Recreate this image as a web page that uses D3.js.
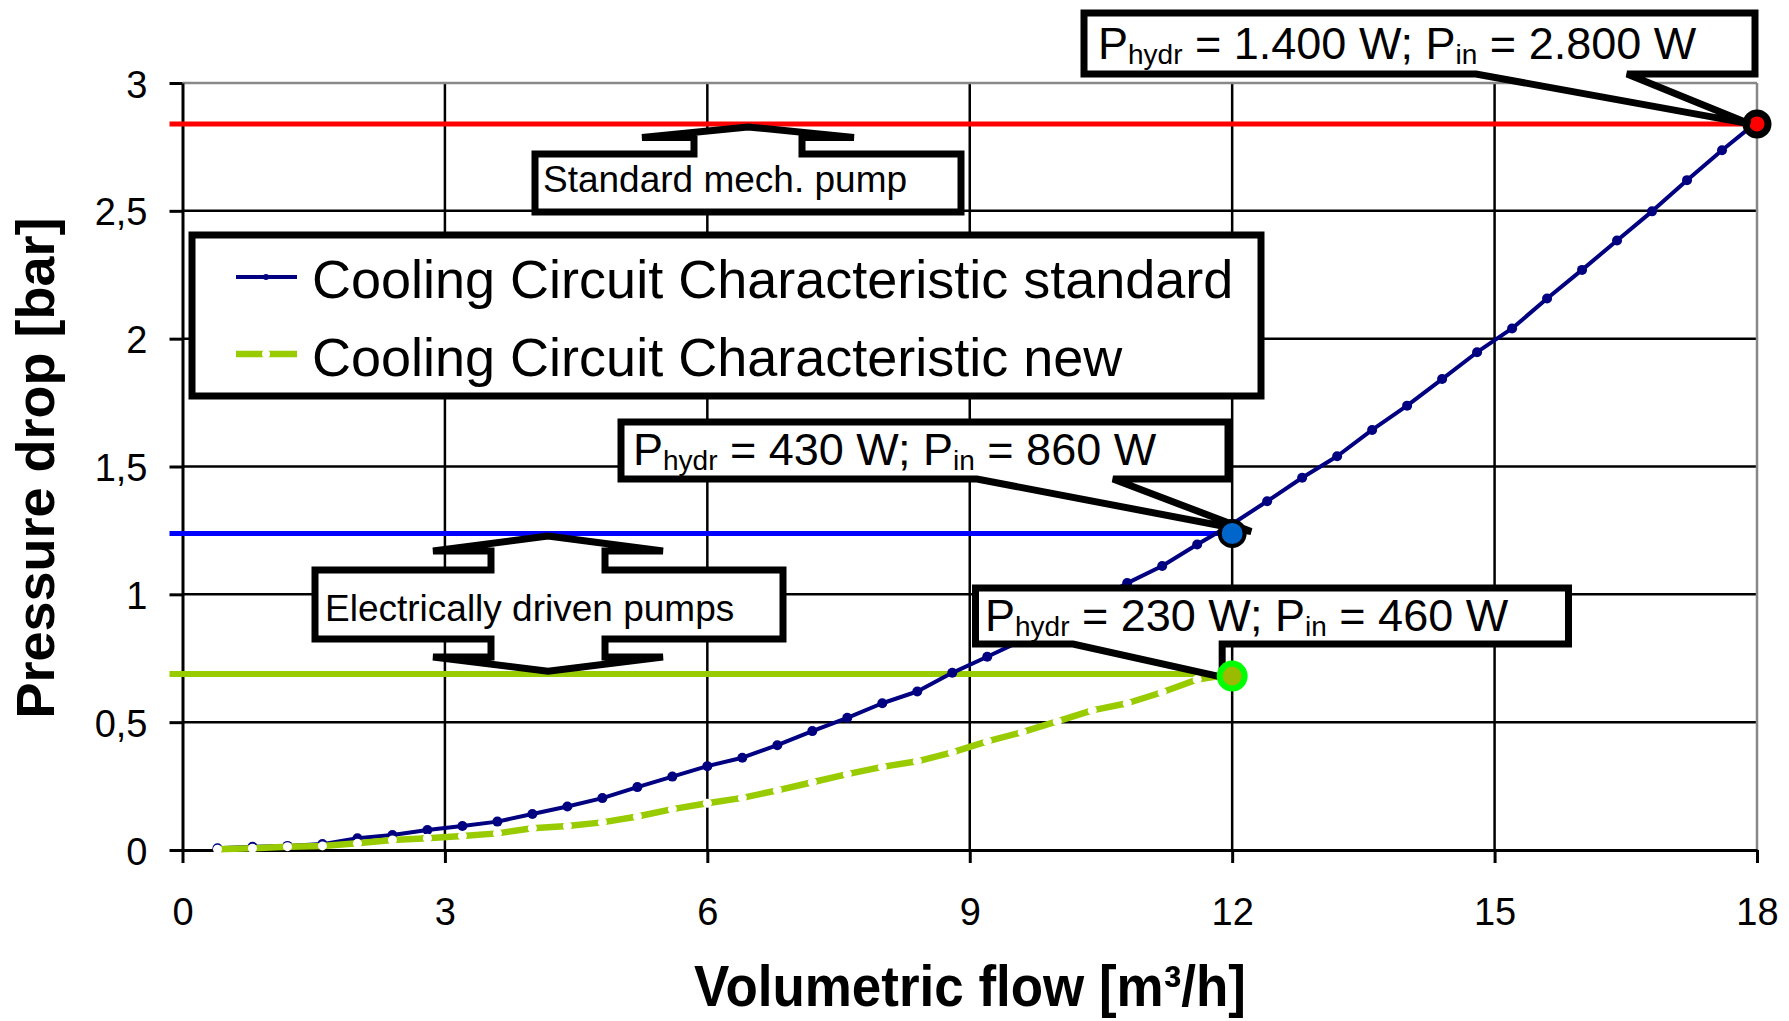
<!DOCTYPE html>
<html>
<head>
<meta charset="utf-8">
<script src="https://cdn.jsdelivr.net/npm/d3@7"></script>
<style>
  body { margin: 0; background: #fff; }
  svg { display: block; }
  text { font-family: Arial, "Liberation Sans", sans-serif; fill: #000; }
</style>
</head>
<body>
<svg id="chart" width="1789" height="1021"></svg>
<script>
// ---------------- data ----------------
const xTicks = [0, 3, 6, 9, 12, 15, 18];
const xTickLabels = ["0", "3", "6", "9", "12", "15", "18"];
const yTicks = [0, 0.5, 1, 1.5, 2, 2.5, 3];
const yTickLabels = ["0", "0,5", "1", "1,5", "2", "2,5", "3"];

const seriesNames = ["Cooling Circuit Characteristic standard", "Cooling Circuit Characteristic new"];

const flowStandard = [0.4,0.8,1.2,1.6,2.0,2.4,2.8,3.2,3.6,4.0,4.4,4.8,5.2,5.6,6.0,6.4,6.8,7.2,7.6,8.0,8.4,8.8,9.2,9.6,10.0,10.4,10.8,11.2,11.6,12.0,12.4,12.8,13.2,13.6,14.0,14.4,14.8,15.2,15.6,16.0,16.4,16.8,17.2,17.6,18.0];
const dropStandard = [0.007,0.013,0.016,0.023,0.046,0.059,0.078,0.094,0.111,0.141,0.170,0.203,0.246,0.287,0.328,0.361,0.410,0.465,0.517,0.574,0.620,0.693,0.756,0.820,0.890,0.965,1.044,1.111,1.195,1.275,1.364,1.456,1.540,1.643,1.738,1.842,1.947,2.040,2.157,2.269,2.384,2.498,2.620,2.737,2.848];

const flowNew = [0.4,0.8,1.2,1.6,2.0,2.4,2.8,3.2,3.6,4.0,4.4,4.8,5.2,5.6,6.0,6.4,6.8,7.2,7.6,8.0,8.4,8.8,9.2,9.6,10.0,10.4,10.8,11.2,11.6,12.0];
const dropNew = [0.003,0.007,0.013,0.016,0.026,0.039,0.046,0.055,0.065,0.085,0.094,0.108,0.131,0.160,0.183,0.204,0.233,0.265,0.297,0.325,0.347,0.382,0.425,0.461,0.503,0.546,0.574,0.617,0.667,0.688];

// operating points: [standard mech. pump, electric standard, electric new]
const opFlow = [18, 12, 12];
const opDrop = [2.84, 1.238, 0.688];
const opHydr = ["1.400", "430", "230"];
const opIn = ["2.800", "860", "460"];

const pumpLabels = ["Standard mech. pump", "Electrically driven pumps"];
const xTitle = "Volumetric flow [m³/h]";
const yTitle = "Pressure drop [bar]";

// ---------------- chart ----------------
const svg = d3.select("#chart");
const x = d3.scaleLinear().domain([0, 18]).range([182.5, 1757]);
const y = d3.scaleLinear().domain([0, 3]).range([850, 83]);

// gridlines
const grid = svg.append("g");
grid.selectAll("line.h").data(yTicks.filter(v => v > 0 && v < 3)).join("line")
  .attr("x1", x(0)).attr("x2", x(18)).attr("y1", d => y(d)).attr("y2", d => y(d))
  .attr("stroke", "#000").attr("stroke-width", 2.5);
grid.selectAll("line.v").data(xTicks.filter(v => v > 0 && v < 18)).join("line")
  .attr("x1", d => x(d)).attr("x2", d => x(d)).attr("y1", y(0)).attr("y2", y(3))
  .attr("stroke", "#000").attr("stroke-width", 2.5);
// plot border (top / right) in gray
grid.append("line").attr("x1", x(0)).attr("x2", x(18)).attr("y1", y(3)).attr("y2", y(3))
  .attr("stroke", "#888").attr("stroke-width", 2.5);
grid.append("line").attr("x1", x(18)).attr("x2", x(18)).attr("y1", y(3)).attr("y2", y(0))
  .attr("stroke", "#888").attr("stroke-width", 2.5);

// axes
const yAxis = d3.axisLeft(y).tickValues(yTicks).tickSize(13).tickSizeOuter(0).tickPadding(22)
  .tickFormat((d, i) => yTickLabels[i]);
const xAxis = d3.axisBottom(x).tickValues(xTicks).tickSize(13).tickSizeOuter(0).tickPadding(35)
  .tickFormat((d, i) => xTickLabels[i]);

const gy = svg.append("g").attr("transform", `translate(${x(0)},0)`).call(yAxis);
const gx = svg.append("g").attr("transform", `translate(0,${y(0)})`).call(xAxis);
[gx, gy].forEach(g => {
  g.select(".domain").attr("stroke", "#000").attr("stroke-width", 3);
  g.selectAll(".tick line").attr("stroke", "#000").attr("stroke-width", 3);
  g.selectAll(".tick text").attr("font-size", 38).attr("font-family", "Arial, 'Liberation Sans', sans-serif").attr("fill", "#000");
});
gy.selectAll(".tick text").attr("dy", "0.37em");
gx.selectAll(".tick text").attr("dy", "0.71em");

// axis titles
svg.append("text").attr("x", 970).attr("y", 1006).attr("text-anchor", "middle")
  .attr("font-size", 58).attr("font-weight", "bold")
  .attr("textLength", 552).attr("lengthAdjust", "spacingAndGlyphs").text(xTitle);
svg.append("text").attr("transform", "translate(54,468) rotate(-90)").attr("text-anchor", "middle")
  .attr("font-size", 54).attr("font-weight", "bold").text(yTitle);

// horizontal reference lines to operating points
const refColors = ["#ff0000", "#0000ff", "#99cc00"];
const refWidths = [5, 5, 6];
svg.append("g").selectAll("line").data(opDrop).join("line")
  .attr("x1", x(0) - 13).attr("x2", (d, i) => x(opFlow[i]))
  .attr("y1", d => y(d)).attr("y2", d => y(d))
  .attr("stroke", (d, i) => refColors[i]).attr("stroke-width", (d, i) => refWidths[i]);

// curves
const line = d3.line().x(d => x(d[0])).y(d => y(d[1]));
const stdData = flowStandard.map((f, i) => [f, dropStandard[i]]);
const newData = flowNew.map((f, i) => [f, dropNew[i]]);

svg.append("path").datum(stdData).attr("d", line).attr("fill", "none")
  .attr("stroke", "#000080").attr("stroke-width", 4).attr("stroke-linejoin", "round");
svg.append("g").selectAll("circle").data(stdData).join("circle")
  .attr("cx", d => x(d[0])).attr("cy", d => y(d[1])).attr("r", 5).attr("fill", "#000080");

svg.append("path").datum(newData).attr("d", line).attr("fill", "none")
  .attr("stroke", "#99cc00").attr("stroke-width", 6.5).attr("stroke-linejoin", "round");
svg.append("g").selectAll("circle").data(newData).join("circle")
  .attr("cx", d => x(d[0])).attr("cy", d => y(d[1])).attr("r", 4.5).attr("fill", "#fff");

// red operating point (under its callout)
svg.append("circle").attr("cx", x(opFlow[0])).attr("cy", y(opDrop[0])).attr("r", 11)
  .attr("fill", "#ff0000").attr("stroke", "#000").attr("stroke-width", 7);

const boxStyle = sel => sel.attr("fill", "#fff").attr("stroke", "#000").attr("stroke-width", 7)
  .attr("stroke-linejoin", "miter").attr("stroke-miterlimit", 4);

// arrow callout shapes
function arrowCallout(x0, y0, x1, y1, cx, shaftHalf, wingHalf, upWingY, upTipY, downWingY, downTipY) {
  const p = [];
  p.push([x0, y0]);
  if (upTipY != null) {
    p.push([cx - shaftHalf, y0], [cx - shaftHalf, upWingY], [cx - wingHalf, upWingY], [cx, upTipY],
           [cx + wingHalf, upWingY], [cx + shaftHalf, upWingY], [cx + shaftHalf, y0]);
  }
  p.push([x1, y0], [x1, y1]);
  if (downTipY != null) {
    p.push([cx + shaftHalf, y1], [cx + shaftHalf, downWingY], [cx + wingHalf, downWingY], [cx, downTipY],
           [cx - wingHalf, downWingY], [cx - shaftHalf, downWingY], [cx - shaftHalf, y1]);
  }
  p.push([x0, y1]);
  return "M" + p.map(q => q.join(",")).join("L") + "Z";
}

// Standard mech. pump
svg.append("path").attr("d", arrowCallout(535, 154, 961, 212, 748, 54, 106, 137.5, y(opDrop[0]) + 3, null, null)).call(boxStyle);
svg.append("text").attr("x", 543).attr("y", 192).attr("font-size", 37).text(pumpLabels[0]);

// Electrically driven pumps
svg.append("path").attr("d", arrowCallout(315, 570, 783, 639, 548, 57, 115, 551, y(opDrop[1]) + 2.5, 657, y(opDrop[2]) - 3)).call(boxStyle);
svg.append("text").attr("x", 325).attr("y", 621).attr("font-size", 37).attr("xml:space", "preserve").text(pumpLabels[1]);

// legend
const lg = svg.append("g");
lg.append("rect").attr("x", 192).attr("y", 235).attr("width", 1069).attr("height", 161).call(boxStyle);
lg.append("line").attr("x1", 236).attr("x2", 297).attr("y1", 277).attr("y2", 277).attr("stroke", "#000080").attr("stroke-width", 4);
lg.append("circle").attr("cx", 266).attr("cy", 277).attr("r", 3).attr("fill", "#000080");
lg.append("line").attr("x1", 236).attr("x2", 297).attr("y1", 354).attr("y2", 354).attr("stroke", "#99cc00").attr("stroke-width", 6.5);
lg.append("circle").attr("cx", 266).attr("cy", 354).attr("r", 4).attr("fill", "#fff");
lg.selectAll("text").data(seriesNames).join("text")
  .attr("x", 312).attr("y", (d, i) => 297.5 + i * 78.5).attr("font-size", 54).text(d => d);

// value callouts
function valueText(tx, ty, i) {
  const t = svg.append("text").attr("x", tx).attr("y", ty).attr("font-size", 45).attr("xml:space", "preserve");
  t.append("tspan").text("P");
  t.append("tspan").attr("font-size", 28).attr("dy", 5).text("hydr");
  t.append("tspan").attr("dy", -5).text(` = ${opHydr[i]} W; P`);
  t.append("tspan").attr("font-size", 28).attr("dy", 5).text("in");
  t.append("tspan").attr("dy", -5).text(` = ${opIn[i]} W`);
}

// box 1 (standard mech. pump operating point)
{
  const tip = [x(opFlow[0]) - 7, y(opDrop[0])];
  const d = `M1084,13L1755,13L1755,74L1627,74L${tip}L1476,74L1084,74Z`;
  svg.append("path").attr("d", d).call(boxStyle);
  valueText(1098, 58.5, 0);
}
// box 2 (electric, standard circuit)
{
  const tip = [x(opFlow[1]) + 19, y(opDrop[1]) - 2];
  const d = `M621,422L1228,422L1228,479L1113,479L${tip}L977,479L621,479Z`;
  svg.append("path").attr("d", d).call(boxStyle);
  valueText(633, 465, 1);
}
// box 3 (electric, new circuit)
{
  const tip = [x(opFlow[2]) - 10, y(opDrop[2]) + 3];
  const d = `M975.5,588L1568.5,588L1568.5,644L${tip[0]},644L${tip}L1073,644L975.5,644Z`;
  svg.append("path").attr("d", d).call(boxStyle);
  valueText(985, 631, 2);
}

// blue & green operating points on top
svg.append("circle").attr("cx", x(opFlow[1])).attr("cy", y(opDrop[1])).attr("r", 12.5)
  .attr("fill", "#0066cc").attr("stroke", "#000").attr("stroke-width", 4);
svg.append("circle").attr("cx", x(opFlow[2])).attr("cy", y(opDrop[2]) + 2).attr("r", 12.5)
  .attr("fill", "#99bb00").attr("stroke", "#00ff00").attr("stroke-width", 6);
</script>
</body>
</html>
